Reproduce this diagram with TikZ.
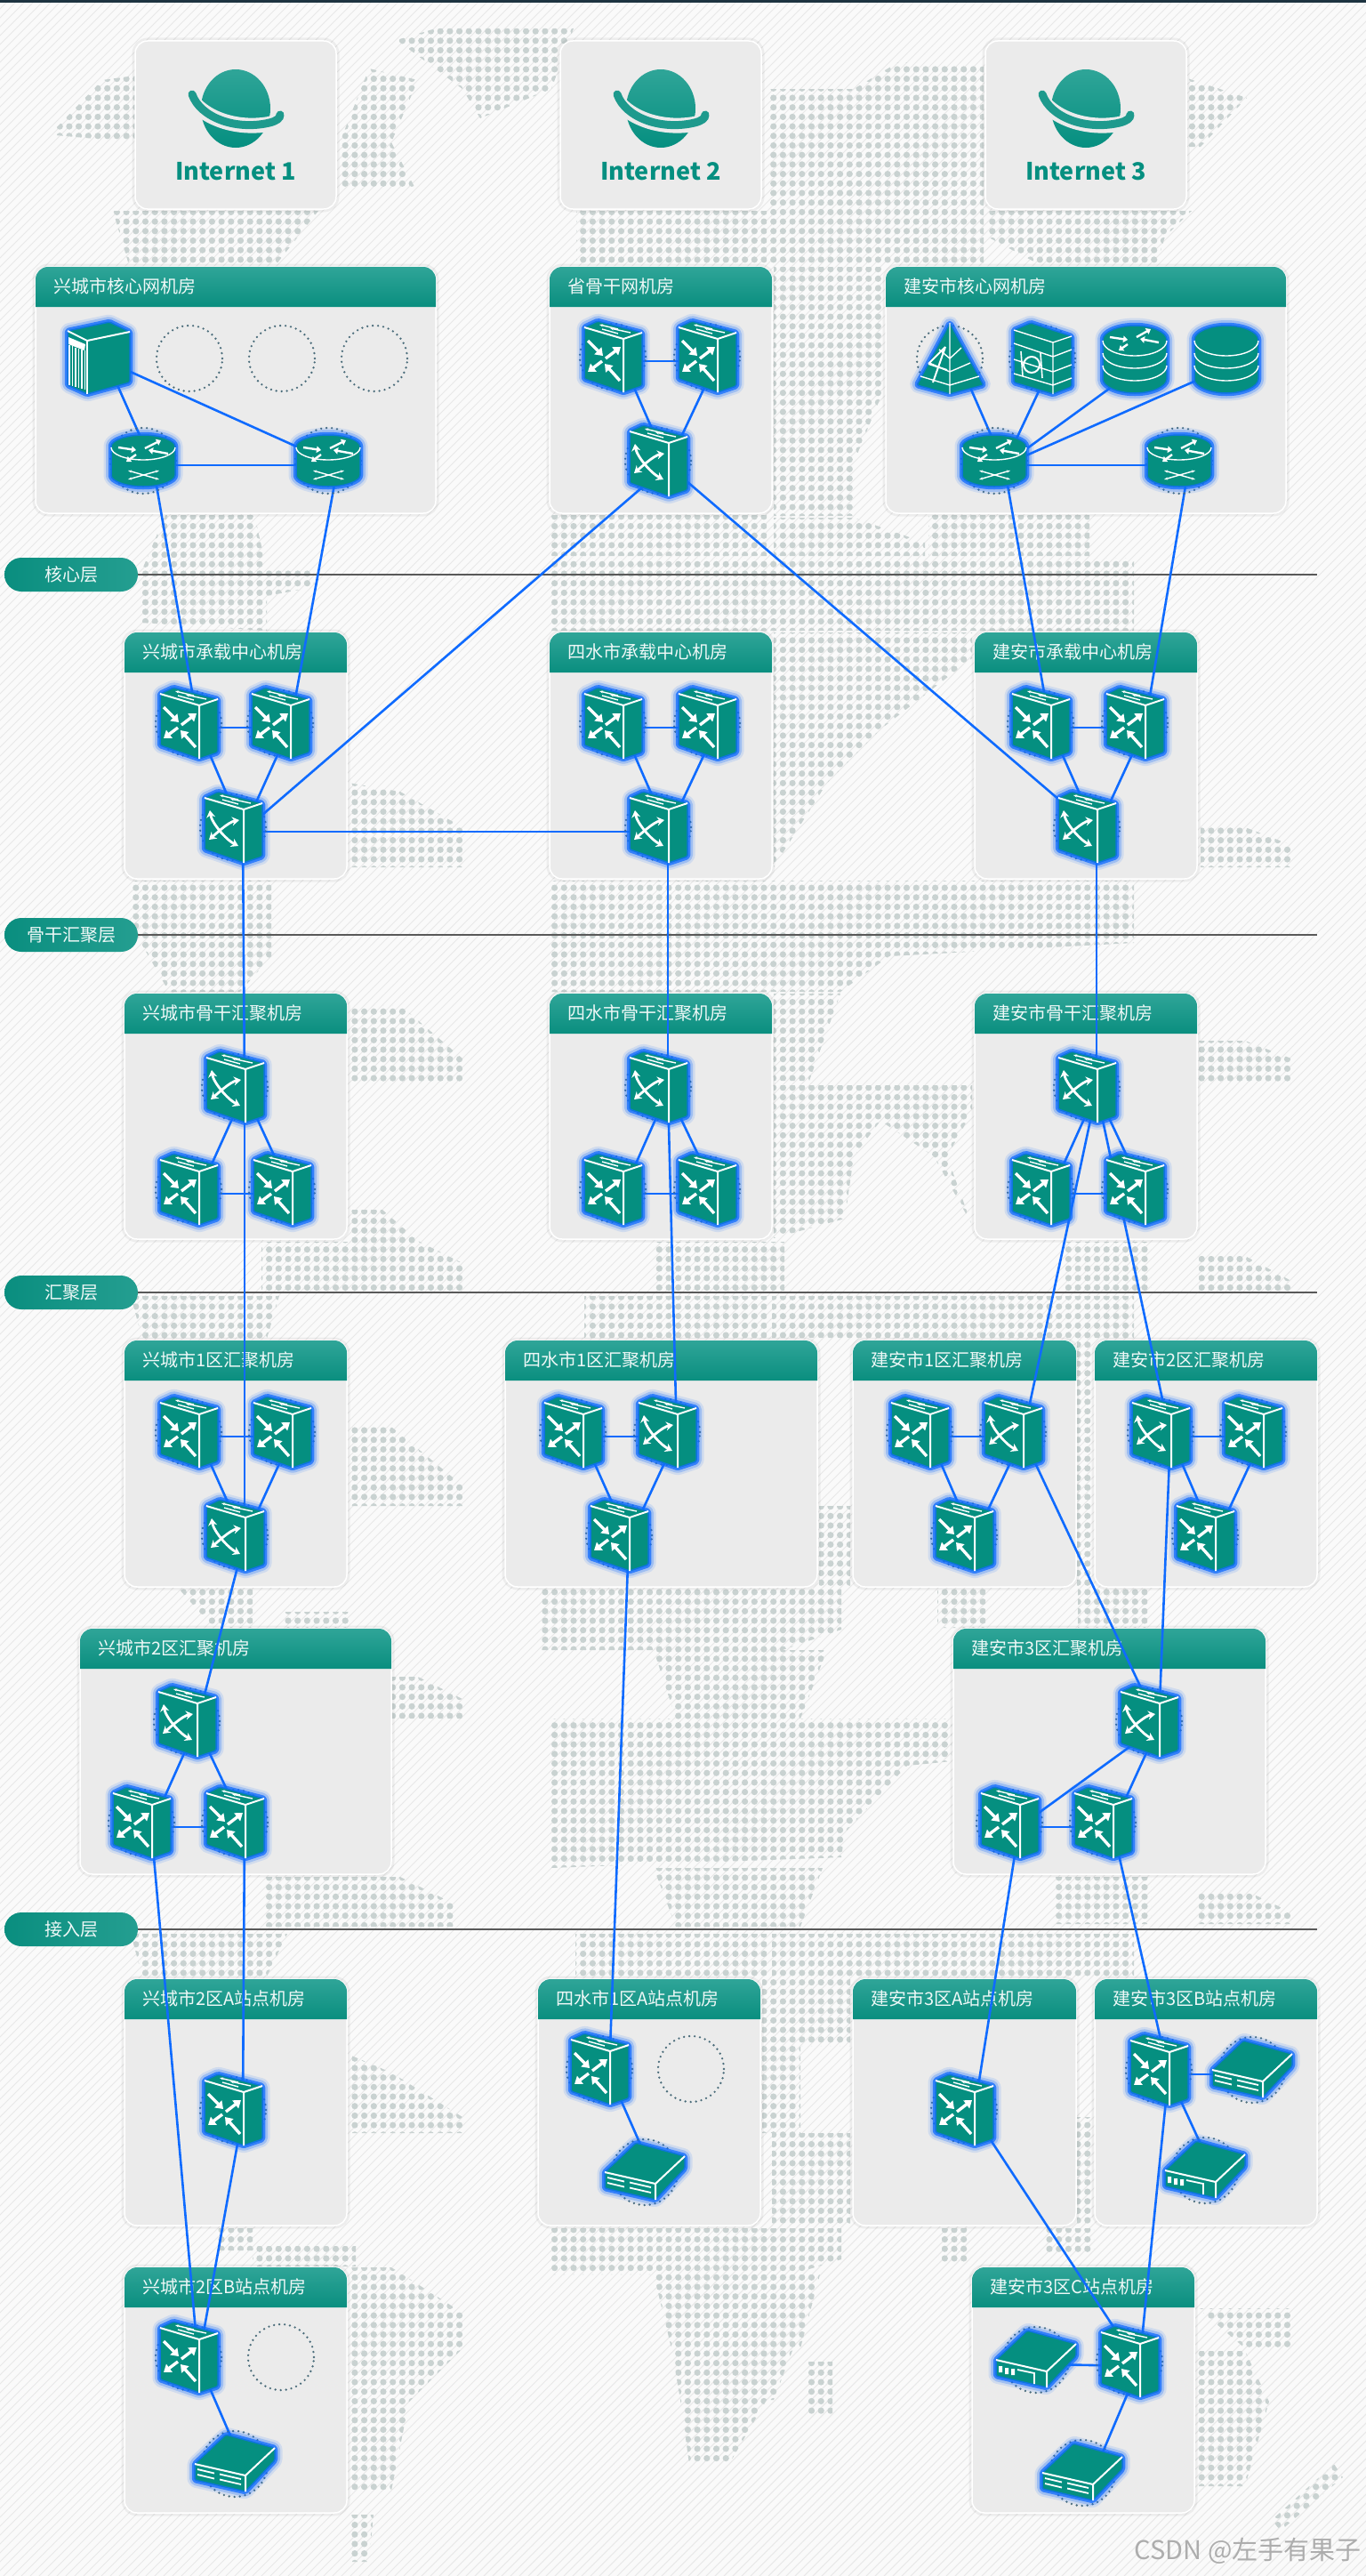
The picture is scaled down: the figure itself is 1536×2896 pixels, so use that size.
\documentclass[tikz,border=0pt]{standalone}
\usepackage{fontspec}
\setmainfont{Noto Sans CJK SC}
\usepackage{tikz}
\usetikzlibrary{arrows.meta,shapes.misc}
\definecolor{devTeal}{HTML}{058F80}
\definecolor{headTop}{HTML}{2FA598}
\definecolor{headBot}{HTML}{0A8E7F}
\definecolor{linkBlue}{HTML}{0F6BFF}
\definecolor{boxGray}{HTML}{EBEBEB}
\definecolor{dotGray}{HTML}{C9D2D1}
\definecolor{ringGray}{HTML}{4A6C7A}
\definecolor{topBar}{HTML}{1D3340}
\tikzset{
  glow/.style={fill=devTeal, draw=linkBlue!75!devTeal, line width=1.5pt, line join=round, rounded corners=1.5pt,
    preaction={draw=linkBlue, opacity=.12, line width=17pt, line join=round},
    preaction={draw=linkBlue, opacity=.25, line width=12pt, line join=round},
    preaction={draw=linkBlue, opacity=.75, line width=6.5pt, line join=round}},
  ring/.style={draw=ringGray, line width=2.6pt, dash pattern=on 0pt off 6pt, line cap=round},
  edge/.style={draw=white, line width=2pt, line join=round},
  thinline/.style={draw=white, line width=1.4pt},
  bigarrow/.style={draw=white, line width=3.4pt, -{Triangle[length=8pt,width=11pt]}},
  tinyarrow/.style={draw=white, line width=2.4pt, -{Triangle[length=5pt,width=7.5pt]}},
  xarrow/.style={draw=white, line width=2.8pt, {Stealth[length=8pt,width=10pt]}-{Stealth[length=8pt,width=10pt]}},
  pics/cubebody/.style={code={
    \draw[ring] (0,0) circle (37pt);
    \path[glow] (-32,-33) -- (-17,-40) -- (33,-27) -- (33,33) -- (12,40) -- (-32,25) -- cycle;
    \draw[edge] (-32,-33) -- (12,-20) -- (33,-27) (12,-20) -- (12,40);
    \draw[thinline, {Stealth[length=4pt]}-] (-15,-36) -- (6,-31);
    \draw[thinline, -{Stealth[length=4pt]}] (20,-27) -- (-3,-32);
    \draw[thinline] (-12,-31) -- (6,-26);
  }},
  pics/swt/.style={code={
    \pic {cubebody};
    \draw[bigarrow] (-28,-18) -- (-11,-1);
    \draw[bigarrow] (-8,2) -- (9,-11);
    \draw[bigarrow] (-12,5) -- (-28,17);
    \draw[bigarrow] (8,27) -- (-9,8);
  }},
  pics/swx/.style={code={
    \pic {cubebody};
    \draw[xarrow] (-26,-19) .. controls (-24,-5) and (-8,14) .. (6,21);
    \draw[xarrow] (7,-8) .. controls (-5,-6) and (-20,8) .. (-27,14);
  }},
  pics/rtr/.style={code={
    \draw[ring] (0,0) circle (37pt);
    \path[glow] (-36,-15) arc[start angle=180,end angle=360,x radius=36,y radius=14] -- (36,15)
      arc[start angle=0,end angle=180,x radius=36,y radius=14] -- cycle;
    \draw[thinline] (-36,-15) arc[start angle=180,end angle=0,x radius=36,y radius=14];
    \draw[tinyarrow] (-28,-15) -- (-8,-12);
    \draw[tinyarrow] (2,-14) -- (20,-23);
    \draw[tinyarrow] (-8,-7) -- (-19,1);
    \draw[tinyarrow] (28,-8) -- (6,-12);
    \draw[thinline, {Stealth[length=4pt]}-{Stealth[length=4pt]}] (-17,11) -- (18,21);
    \draw[thinline, {Stealth[length=4pt]}-{Stealth[length=4pt]}] (-17,21) -- (18,11);
  }},
  pics/srv/.style={code={
    \path[glow] (-33,-29) -- (14,-39) -- (37,-28) -- (37,29) -- (-11,42) -- (-33,32) -- cycle;
    \draw[edge] (-33,-29) -- (-11,-18) -- (37,-28);
    \draw[edge] (-11,-18) -- (-11,42);
    \fill[white] (-32,-22) -- (-13,-14) -- (-14,-7) -- (-32,-14) -- cycle;
    \foreach \sx in {-31,-27.5,...,-13} \draw[thinline, line width=1.2pt] (\sx,-14+\sx*.35+12) -- (\sx,32+\sx*.25+8);
  }},
  pics/pyr/.style={code={
    \draw[ring] (0,0) circle (37pt);
    \path[glow] (0,-40) -- (38,30) -- (0,40) -- (-37,30) -- cycle;
    \draw[edge, line width=1.4pt] (0,-40) -- (0,40) (-33,20) -- (0,30) -- (33,20) (-23,5) -- (0,15) -- (23,5) (-12,-10) -- (0,0) -- (13,-12);
    \draw[edge, line width=2pt] (-24,6) -- (-5,-13) (-19,27) -- (-5,-13) (-24,6) -- (-3,13);
  }},
  pics/fwl/.style={code={
    \draw[ring] (0,0) circle (37pt);
    \path[glow] (-32,-32) -- (-13,-40) -- (33,-25) -- (33,32) -- (12,40) -- (-32,27) -- cycle;
    \draw[edge, line width=1.4pt] (-32,-32) -- (12,-18) -- (33,-25) (12,-18) -- (12,40)
      (-32,-17) -- (12,-2) -- (33,-10) (-32,1) -- (12,15) -- (33,7) (-32,17) -- (12,30) -- (33,22);
    \draw[edge, line width=2pt] (-12,7) circle (9pt);
    \draw[edge, line width=1.6pt] (-24,-8) -- (-22,20) (-2,-6) -- (0,22);
  }},
  pics/dbs/.style={code={
    \path[glow] (-36,-20) arc[start angle=180,end angle=360,x radius=36,y radius=17] -- (36,22)
      arc[start angle=0,end angle=180,x radius=36,y radius=17] -- cycle;
    \foreach \cy in {-20,-6,8}
      \draw[thinline] (-36,\cy) arc[start angle=180,end angle=0,x radius=36,y radius=17];
  }},
  pics/stk/.style={code={
    \pic {dbs};
    \draw[tinyarrow] (-28,-24) -- (-8,-21);
    \draw[tinyarrow] (2,-24) -- (18,-33);
    \draw[tinyarrow] (-8,-16) -- (-18,-9);
    \draw[tinyarrow] (27,-18) -- (6,-22);
  }},
  pics/modembody/.style={code={
    \draw[ring] (0,0) circle (37pt);
    \path[glow] (-10,-33) -- (45,-18) -- (45,-4) -- (12,31) -- (-45,18) -- (-45,0) -- cycle;
    \draw[edge] (-45,0) -- (12,13) -- (45,-18) (12,13) -- (12,31);
  }},
  pics/modembar/.style={code={
    \pic {modembody};
    \draw[thinline, line width=1.8pt] (-42,6) -- (-23,10.5) (-42,12) -- (-23,16.5) (-17,11.5) -- (7,17) (-17,17.5) -- (7,23);
  }},
  pics/modemsq/.style={code={
    \pic {modembody};
    \fill[white] (-42,7) rectangle (-38,14) (-35,9) rectangle (-31,16) (-28,10) rectangle (-24,17);
    \draw[thinline, line width=1.8pt] (-21,11) -- (-2,15) -- (-2,27);
  }},
  pics/planet/.style={code={
    \shade[top color=headTop, bottom color=devTeal] (0,0) ellipse[x radius=39, y radius=44];
    \draw[boxGray, line width=17pt] (-58,-24) .. controls (-45,10) and (0,25) .. (40,17) -- (62,6);
    \draw[devTeal!90!white, line width=9pt, line cap=round] (-49,-16) .. controls (-40,10) and (0,25) .. (38,16) .. controls (46,14) and (50,11) .. (50,7);
  }},
}
\begin{document}
\begin{tikzpicture}[
  x=1pt, y=-1pt,
  font={\fontsize{20}{24}\selectfont},
  mapdot/.style={draw=dotGray, line width=7.2pt, line cap=round, dash pattern=on 0pt off 10.7pt},
  hatch/.style={draw=black!9, line width=1pt},
  room/.style={fill=boxGray, draw=white, line width=1.5pt, rounded corners=14,
    preaction={draw=black, opacity=.05, line width=7pt}},
  roomhead/.style={top color=headTop, bottom color=headBot},
  roomtitle/.style={text=white!92!headTop, inner sep=0pt},
  netlabel/.style={text=devTeal, font={\fontsize{27}{31}\selectfont\bfseries}, inner sep=0pt},
  layerpill/.style={rounded rectangle, minimum width=150pt, minimum height=38pt, inner sep=0pt,
    left color=headBot, right color=headTop!70!headBot, text=white!92!headTop},
  layerline/.style={draw=black!65, line width=1.6pt},
  dev/.style={circle, inner sep=0pt, minimum size=1pt, xshift=11, yshift=-5},
  ghost/.style={circle, minimum size=74pt, inner sep=0pt, ring},
  link/.style={draw=linkBlue, line width=2.6pt},
  icon/.style={shift={(-11,-5)}},
  stamp/.style={text=black!32, font={\fontsize{29}{32}\selectfont}, inner sep=0pt},
]
\useasboundingbox (0,0) rectangle (1536,2896);
\clip (0,0) rectangle (1536,2896);
\fill[white!98!black] (0,0) rectangle (1536,2896);
\foreach \i in {0,...,444} \draw[hatch] (\i*10,0) -- (\i*10-2896,2896);
\fill[topBar] (0,0) rectangle (1536,3);

% dotted map
\begin{scope}
\clip (62,145) -- (115,90) -- (152,85) -- (152,160) -- (62,152) -- cycle
  (127,237) -- (358,237) -- (310,298) -- (145,298) -- cycle
  (415,77) -- (470,90) -- (440,160) -- (466,210) -- (382,210) -- (382,160) -- cycle
  (446,45) -- (490,32) -- (645,32) -- (620,100) -- (540,133) -- (520,100) -- cycle
  (648,237) -- (862,237) -- (862,298) -- (648,298) -- cycle
  (866,100) -- (960,100) -- (1010,70) -- (1106,75) -- (1106,298) -- (866,298) -- cycle
  (1335,88) -- (1402,110) -- (1350,165) -- (1335,165) -- cycle
  (1110,237) -- (1340,237) -- (1310,266) -- (1300,298) -- (1170,298) -- (1110,266) -- cycle
  (870,300) -- (993,300) -- (993,440) -- (960,520) -- (960,580) -- (870,580) -- cycle
  (186,579) -- (286,579) -- (300,640) -- (160,640) -- cycle
  (620,579) -- (862,579) -- (862,625) -- (620,625) -- cycle
  (870,582) -- (960,582) -- (1040,610) -- (1040,625) -- (870,625) -- cycle
  (1044,579) -- (1225,579) -- (1225,625) -- (1044,625) -- cycle
  (157,640) -- (353,640) -- (353,660) -- (300,670) -- (300,709) -- (157,700) -- cycle
  (618,627) -- (1275,627) -- (1275,709) -- (618,709) -- cycle
  (870,711) -- (1093,711) -- (1093,740) -- (990,820) -- (930,880) -- (870,975) -- cycle
  (392,880) -- (450,890) -- (520,930) -- (520,975) -- (392,975) -- cycle
  (1350,930) -- (1400,930) -- (1452,950) -- (1452,975) -- (1350,975) -- cycle
  (147,990) -- (305,990) -- (305,1075) -- (270,1115) -- (190,1115) -- (147,1040) -- cycle
  (618,990) -- (1275,990) -- (1275,1060) -- (1000,1075) -- (945,1115) -- (618,1115) -- cycle
  (870,1117) -- (945,1117) -- (910,1215) -- (870,1215) -- cycle
  (393,1130) -- (450,1130) -- (520,1190) -- (520,1218) -- (393,1218) -- cycle
  (1348,1170) -- (1400,1170) -- (1452,1190) -- (1452,1218) -- (1348,1218) -- cycle
  (870,1220) -- (1093,1220) -- (1093,1250) -- (1065,1300) -- (1092,1375) -- (1050,1300) -- (990,1260) -- (960,1300) -- (950,1370) -- (870,1392) -- cycle
  (393,1360) -- (430,1360) -- (470,1395) -- (520,1420) -- (520,1451) -- (294,1451) -- (294,1396) -- (393,1396) -- cycle
  (735,1396) -- (882,1396) -- (882,1451) -- (735,1451) -- cycle
  (1196,1396) -- (1294,1396) -- (1294,1451) -- (1196,1451) -- cycle
  (1348,1412) -- (1400,1412) -- (1452,1440) -- (1452,1451) -- (1348,1451) -- cycle
  (147,1457) -- (314,1457) -- (300,1505) -- (160,1505) -- cycle
  (657,1457) -- (862,1457) -- (862,1504) -- (657,1504) -- cycle
  (868,1457) -- (1275,1457) -- (1275,1504) -- (868,1504) -- cycle
  (393,1604) -- (440,1604) -- (520,1670) -- (520,1693) -- (393,1693) -- cycle
  (921,1693) -- (956,1693) -- (956,1783) -- (921,1783) -- cycle
  (1211,1500) -- (1228,1500) -- (1228,1783) -- (1211,1783) -- cycle
  (200,1785) -- (284,1785) -- (284,1830) -- (240,1830) -- cycle
  (320,1812) -- (395,1812) -- (395,1830) -- (320,1830) -- cycle
  (608,1785) -- (946,1785) -- (946,1832) -- (880,1855) -- (608,1855) -- cycle
  (735,1855) -- (930,1855) -- (900,1932) -- (760,1932) -- cycle
  (1054,1785) -- (1108,1785) -- (1108,1830) -- (1054,1830) -- cycle
  (1212,1785) -- (1290,1785) -- (1290,1830) -- (1212,1830) -- cycle
  (441,1885) -- (470,1885) -- (520,1910) -- (520,1932) -- (441,1932) -- cycle
  (618,1932) -- (1070,1932) -- (1070,1980) -- (1020,1985) -- (950,2060) -- (946,2088) -- (618,2100) -- cycle
  (735,2100) -- (925,2100) -- (900,2166) -- (760,2166) -- cycle
  (299,2110) -- (450,2110) -- (510,2140) -- (510,2166) -- (299,2166) -- cycle
  (1186,2110) -- (1294,2110) -- (1294,2163) -- (1186,2163) -- cycle
  (1348,2125) -- (1400,2125) -- (1452,2150) -- (1452,2163) -- (1348,2163) -- cycle
  (147,2174) -- (323,2174) -- (300,2222) -- (160,2222) -- cycle
  (647,2174) -- (862,2174) -- (862,2222) -- (647,2222) -- cycle
  (868,2174) -- (1275,2174) -- (1275,2222) -- (868,2222) -- cycle
  (393,2310) -- (440,2330) -- (520,2380) -- (520,2398) -- (393,2398) -- cycle
  (857,2224) -- (900,2224) -- (900,2398) -- (857,2398) -- cycle
  (868,2398) -- (956,2398) -- (956,2500) -- (868,2500) -- cycle
  (900,2224) -- (956,2224) -- (956,2300) -- (900,2300) -- cycle
  (1211,2380) -- (1228,2380) -- (1228,2500) -- (1211,2500) -- cycle
  (618,2505) -- (946,2505) -- (946,2540) -- (890,2557) -- (618,2557) -- cycle
  (735,2557) -- (922,2557) -- (900,2640) -- (755,2640) -- cycle
  (755,2640) -- (892,2640) -- (870,2698) -- (765,2698) -- cycle
  (765,2698) -- (862,2698) -- (820,2770) -- (775,2770) -- cycle
  (907,2655) -- (936,2655) -- (936,2717) -- (907,2717) -- cycle
  (245,2505) -- (284,2505) -- (284,2530) -- (245,2530) -- cycle
  (284,2525) -- (400,2525) -- (400,2548) -- (284,2548) -- cycle
  (393,2549) -- (440,2549) -- (520,2600) -- (520,2640) -- (460,2700) -- (440,2800) -- (393,2800) -- cycle
  (393,2827) -- (420,2827) -- (415,2880) -- (395,2880) -- cycle
  (1059,2505) -- (1088,2505) -- (1088,2544) -- (1059,2544) -- cycle
  (1176,2505) -- (1230,2505) -- (1230,2535) -- (1176,2535) -- cycle
  (1347,2643) -- (1400,2643) -- (1427,2700) -- (1400,2795) -- (1347,2795) -- cycle
  (1347,2595) -- (1452,2595) -- (1452,2640) -- (1400,2640) -- cycle
  (1430,2833) -- (1500,2770) -- (1510,2785) -- (1440,2845) -- cycle;
\foreach \r in {0,...,270} \draw[mapdot] (3,\r*10.7+3) -- (1536,\r*10.7+3);
\end{scope}

\foreach \n/\py/\ttl in {lcore/646/核心层,lback/1051/骨干汇聚层,lconv/1453/汇聚层,laccess/2169/接入层} {
  \node[layerpill] (\n) at (80,\py) {\ttl};
  \coordinate (\n end) at (1481,\py);
  \draw[layerline] (\n.east) -- (\n end);
}

\foreach \n/\cx/\ttl in {net1/265/Internet 1,net2/743/Internet 2,net3/1221/Internet 3} {
  \path[room] (\cx-113,46) rectangle (\cx+113,235);
  \pic at (\cx,122) {planet};
  \node[netlabel] (\n) at (\cx,193) {\ttl};
}

\foreach \n/\xa/\ya/\xb/\yb/\ttl in {
  rxcore/40/300/490/577/兴城市核心网机房,
  rprov/618/300/868/577/省骨干网机房,
  rjcore/996/300/1446/577/建安市核心网机房,
  rxcarry/140/711/390/988/兴城市承载中心机房,
  rscarry/618/711/868/988/四水市承载中心机房,
  rjcarry/1096/711/1346/988/建安市承载中心机房,
  rxback/140/1117/390/1393/兴城市骨干汇聚机房,
  rsback/618/1117/868/1393/四水市骨干汇聚机房,
  rjback/1096/1117/1346/1393/建安市骨干汇聚机房,
  rxone/140/1507/390/1784/兴城市1区汇聚机房,
  rsone/568/1507/919/1784/四水市1区汇聚机房,
  rjone/959/1507/1210/1784/建安市1区汇聚机房,
  rjtwo/1231/1507/1481/1784/建安市2区汇聚机房,
  rxtwo/90/1831/440/2107/兴城市2区汇聚机房,
  rjthree/1072/1831/1423/2107/建安市3区汇聚机房,
  rxa/140/2225/390/2502/兴城市2区A站点机房,
  rsa/605/2225/855/2502/四水市1区A站点机房,
  rja/959/2225/1210/2502/建安市3区A站点机房,
  rjb/1231/2225/1481/2502/建安市3区B站点机房,
  rxb/140/2549/390/2825/兴城市2区B站点机房,
  rjc/1093/2549/1343/2825/建安市3区C站点机房} {
  \path[room] (\xa,\ya) rectangle (\xb,\yb);
  \path[roomhead] [sharp corners] (\xa,\ya+45) [rounded corners=14] -- (\xa,\ya) -- (\xb,\ya) [sharp corners] -- (\xb,\ya+45) -- cycle;
  \node[roomtitle, anchor=west] (\n) at (\xa+20,\ya+22) {\ttl};
}

\foreach \n/\px/\py in {xg1/213/403,xg2/317/403,xg3/421/403,sg4/777/2326,xg5/316/2650}
  \node[ghost] (\n) at (\px,\py) {};

\foreach \n/\px/\py in {
  xsrv/109/401,xr1/161/518,xr2/369/518,ps1/689/401,ps2/795/401,psx/740/518,
  jpy/1068/403,jfw/1172/403,jst/1276/403,jdb/1379/403,jr1/1118/518,jr2/1326/518,
  xa1/212/813,xa2/315/813,xax/262/930,sa1/689/813,sa2/795/813,sax/740/930,ja1/1170/813,ja2/1276/813,jax/1222/930,
  xbx/264/1222,xb1/212/1337,xb2/317/1337,sbx/740/1222,sb1/689/1337,sb2/795/1337,jbx/1222/1222,jb1/1170/1337,jb2/1276/1337,
  xc1/212/1610,xc2/317/1610,xcx/264/1726,sc1/644/1610,scx/750/1610,sc3/696/1726,
  jc1/1034/1610,jcx/1139/1610,jc3/1084/1726,jdx/1305/1610,jd2/1409/1610,jd3/1355/1726,
  xex/210/1935,xe1/159/2049,xe2/264/2049,jex/1292/1935,je1/1135/2049,je2/1240/2049,
  xf1/262/2372,sf1/674/2326,sfm/725/2442,jf1/1084/2372,jg1/1303/2327,jgm1/1408/2327,jgm2/1355/2440,
  xh1/212/2650,xhm/264/2770,jh1/1270/2655,jhm1/1165/2653,jhm2/1217/2780}
  \node[dev] (\n) at (\px,\py) {};

\foreach \a/\b in {
  xsrv/xr1,xsrv/xr2,xr1/xr2,xr1/xa1,xr2/xa2,ps1/ps2,ps1/psx,ps2/psx,psx/xax,psx/jax,
  jpy/jr1,jfw/jr1,jst/jr1,jdb/jr1,jr1/jr2,jr1/ja1,jr2/ja2,
  xa1/xa2,xa1/xax,xa2/xax,xax/sax,xax/xbx,sa1/sa2,sa1/sax,sa2/sax,sax/sbx,ja1/ja2,ja1/jax,ja2/jax,jax/jbx,
  xbx/xb1,xbx/xb2,xb1/xb2,xbx/xcx,sbx/sb1,sbx/sb2,sb1/sb2,sbx/scx,jbx/jb1,jbx/jb2,jb1/jb2,jbx/jcx,jbx/jdx,
  xc1/xc2,xc1/xcx,xc2/xcx,xcx/xex,sc1/scx,sc1/sc3,scx/sc3,sc3/sf1,jc1/jcx,jc1/jc3,jcx/jc3,jcx/jex,
  jdx/jd2,jdx/jd3,jd2/jd3,jdx/jex,xex/xe1,xex/xe2,xe1/xe2,xe1/xh1,xe2/xf1,jex/je1,jex/je2,je1/je2,je1/jf1,je2/jg1,
  xf1/xh1,sf1/sfm,jf1/jh1,jg1/jh1,jg1/jgm1,jg1/jgm2,jh1/jhm1,jh1/jhm2,xh1/xhm}
  \draw[link] (\a) -- (\b);

\foreach \n in {ps1,ps2,xa1,xa2,sa1,sa2,ja1,ja2,xb1,xb2,sb1,sb2,jb1,jb2,xc1,xc2,sc1,sc3,jc1,jc3,jd2,jd3,xe1,xe2,je1,je2,xf1,sf1,jf1,jg1,xh1,jh1}
  \pic[icon] at (\n) {swt};
\foreach \n in {psx,xax,sax,jax,xbx,sbx,jbx,xcx,scx,jcx,jdx,xex,jex}
  \pic[icon] at (\n) {swx};
\foreach \n in {xr1,xr2,jr1,jr2}
  \pic[icon] at (\n) {rtr};
\foreach \n in {sfm,jgm1,jhm2,xhm}
  \pic[icon] at (\n) {modembar};
\foreach \n in {jgm2,jhm1}
  \pic[icon] at (\n) {modemsq};
\pic[icon] at (xsrv) {srv};
\pic[icon] at (jpy) {pyr};
\pic[icon] at (jfw) {fwl};
\pic[icon] at (jst) {stk};
\pic[icon] at (jdb) {dbs};

\node[stamp] (csdn) at (1403,2868) {CSDN @左手有果子};
\end{tikzpicture}
\end{document}
